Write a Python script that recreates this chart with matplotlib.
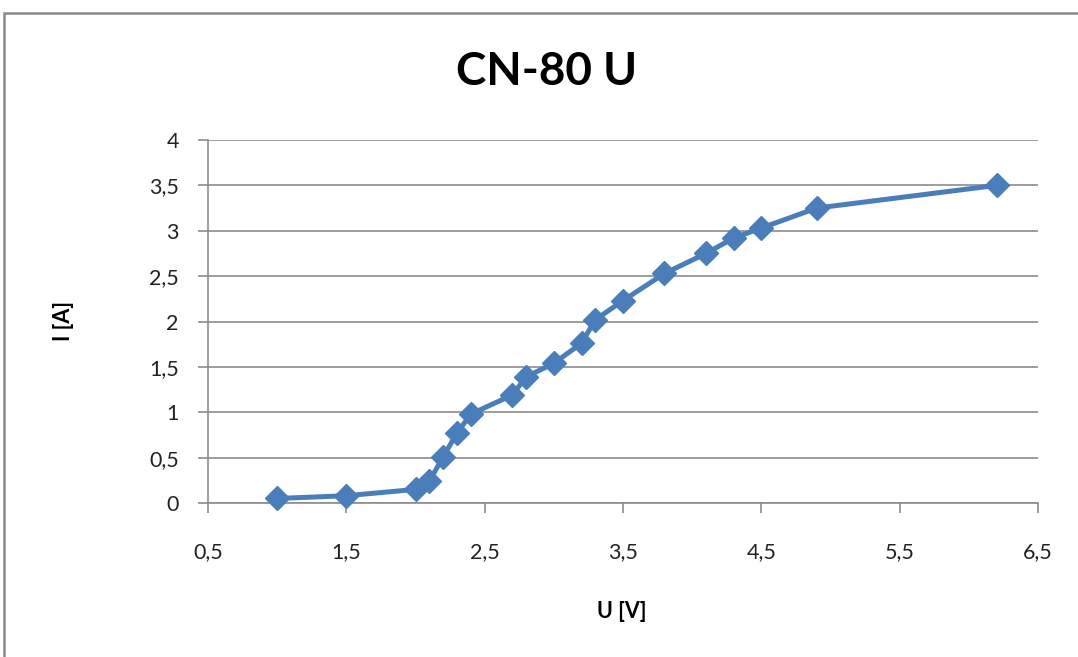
import matplotlib.pyplot as plt
from matplotlib.patches import Rectangle
from matplotlib.ticker import FuncFormatter

# measured values (U in volts, I in amps)
voltage = [1.0, 1.5, 2.0, 2.1, 2.2, 2.3, 2.4, 2.7, 2.8, 3.0, 3.2, 3.3,
           3.5, 3.8, 4.1, 4.3, 4.5, 4.9, 6.2]
current = [0.05, 0.08, 0.15, 0.24, 0.51, 0.77, 0.98, 1.19, 1.39, 1.54, 1.76, 2.02,
           2.23, 2.53, 2.75, 2.92, 3.03, 3.25, 3.50]

x_ticks = [0.5, 1.5, 2.5, 3.5, 4.5, 5.5, 6.5]
y_ticks = [0, 0.5, 1, 1.5, 2, 2.5, 3, 3.5, 4]

plt.rcParams['font.family'] = ['Lato', 'DejaVu Sans']

W, H = 1078, 657
fig = plt.figure(figsize=(W / 100, H / 100), dpi=100)
ax = fig.add_axes([208 / W, 1 - 503 / H, 830 / W, 363 / H])

# outer chart frame (Excel style), cut off at the right and bottom
fig.patches.append(Rectangle((4 / W, -0.1), 1.2, 1 - 13 / H + 0.1,
                             transform=fig.transFigure, fill=False,
                             edgecolor='#8a8a8a', linewidth=1.8))

ax.plot(voltage, current, color='#4A7EBB', linewidth=3.6,
        marker='D', markersize=12.5, zorder=3, clip_on=False)

ax.set_xlim(0.5, 6.5)
ax.set_ylim(0, 4)
ax.set_xticks(x_ticks)
ax.set_yticks(y_ticks)

comma = FuncFormatter(lambda v, p: ('%g' % v).replace('.', ','))
ax.xaxis.set_major_formatter(comma)
ax.yaxis.set_major_formatter(comma)

ax.grid(axis='y', color='#8c8c8c', linewidth=1.2)
ax.set_axisbelow(True)
for side in ['top', 'right']:
    ax.spines[side].set_visible(False)
for side in ['left', 'bottom']:
    ax.spines[side].set_color('#8c8c8c')
    ax.spines[side].set_linewidth(1.2)

ax.tick_params(axis='both', colors='#8c8c8c', labelcolor='#222222',
               labelsize=15.5, length=7, width=1.2)
ax.tick_params(axis='x', pad=21)
ax.tick_params(axis='y', pad=14)

# title and axis labels placed like in the original Excel chart
fig.text(547 / W, 1 - 72 / H, 'CN-80 U', fontsize=33, fontweight='bold',
         ha='center', va='center')
fig.text(622 / W, 1 - 612 / H, 'U [V]', fontsize=15.5, fontweight='bold',
         ha='center', va='center')
fig.text(63 / W, 1 - 321 / H, 'I [A]', fontsize=15.5, fontweight='bold',
         ha='center', va='center', rotation=90)

fig.savefig('out.png', dpi=100)
plt.close(fig)
